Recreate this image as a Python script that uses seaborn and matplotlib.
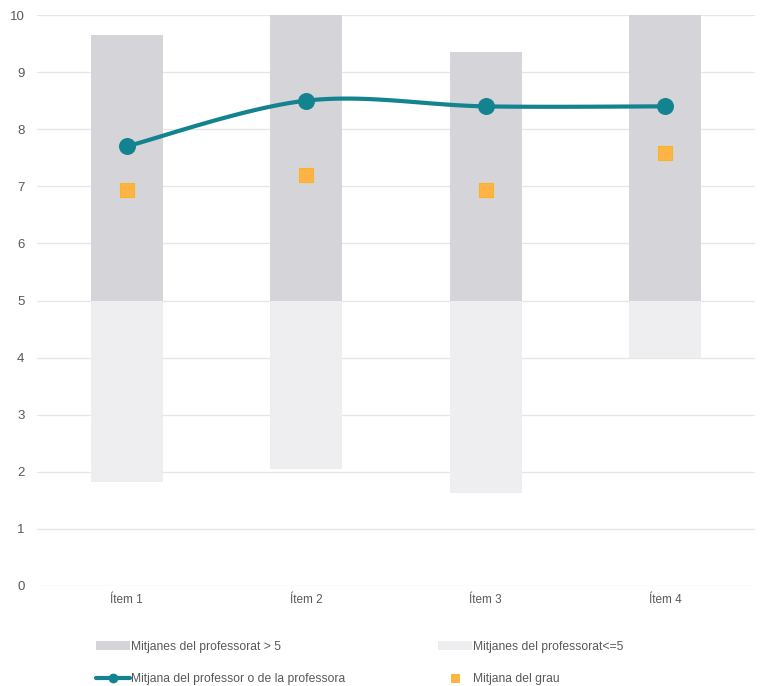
import numpy as np
import matplotlib
matplotlib.use('Agg')
import matplotlib.pyplot as plt
import seaborn as sns
from matplotlib.patches import Patch
from matplotlib.lines import Line2D

items = ['Ítem 1', 'Ítem 2', 'Ítem 3', 'Ítem 4']
prof_high = [9.65, 10.0, 9.35, 10.0]   # top of the range of teachers' means (> 5 part)
prof_low = [1.82, 2.05, 1.63, 4.0]     # bottom of the range (<= 5 part)
prof_mean = [7.7, 8.5, 8.4, 8.4]       # mean of this teacher
grau_mean = [6.94, 7.2, 6.94, 7.58]    # mean of the degree

dark_grey = '#d5d4d9'
light_grey = '#eeeef0'
teal = '#12838f'
orange = '#ffb347'
txt = '#595959'

sns.set_style('white')
plt.rcParams['font.family'] = ['Liberation Sans', 'DejaVu Sans']

fig = plt.figure(figsize=(7.63, 6.86), dpi=100)
ax = fig.add_axes([37 / 763, 100 / 686, 718 / 763, 571 / 686])

# floating bars: light part from the minimum up to 5, dark part from 5 up to the maximum
sns.barplot(x=items, y=[5 - v for v in prof_low], bottom=prof_low, color=light_grey,
            saturation=1, width=0.4, linewidth=0, errorbar=None, ax=ax, zorder=2)
sns.barplot(x=items, y=[v - 5 for v in prof_high], bottom=5, color=dark_grey,
            saturation=1, width=0.4, linewidth=0, errorbar=None, ax=ax, zorder=2)

# smoothed line (Bezier through the points, like a spreadsheet "smooth line")
pos = np.arange(len(items), dtype=float)
ym = np.array(prof_mean, dtype=float)
px = np.concatenate([[pos[0]], pos, [pos[-1]]])
py = np.concatenate([[ym[0]], ym, [ym[-1]]])
t = np.linspace(0, 1, 40)
cx, cy = [], []
for i in range(len(pos) - 1):
    p0 = np.array([px[i], py[i]])
    p1 = np.array([px[i + 1], py[i + 1]])
    p2 = np.array([px[i + 2], py[i + 2]])
    p3 = np.array([px[i + 3], py[i + 3]])
    c1 = p1 + (p2 - p0) / 6
    c2 = p2 - (p3 - p1) / 6
    seg = ((1 - t) ** 3)[:, None] * p1 + (3 * (1 - t) ** 2 * t)[:, None] * c1 \
        + (3 * (1 - t) * t ** 2)[:, None] * c2 + (t ** 3)[:, None] * p2
    cx.extend(seg[:, 0])
    cy.extend(seg[:, 1])
ax.plot(cx, cy, color=teal, lw=3, zorder=3, solid_capstyle='round')
sns.scatterplot(x=pos, y=prof_mean, color=teal, s=150, linewidth=0, zorder=4, ax=ax)

sns.scatterplot(x=pos, y=grau_mean, marker='s', color=orange, s=110,
                edgecolor='#f9b51c', linewidth=0.8, zorder=4, ax=ax)

ax.set_ylim(0, 10)
ax.set_xlim(-0.5, 3.5)
ax.set_yticks(range(0, 11))
ax.yaxis.grid(True, color='#e6e6e6', lw=0.9, zorder=0)
ax.xaxis.grid(False)
ax.set_axisbelow(True)
for s in ax.spines.values():
    s.set_visible(False)
ax.tick_params(axis='both', length=0, labelcolor=txt)
ax.tick_params(axis='y', pad=9, labelsize=9.5)
ax.tick_params(axis='x', pad=6, labelsize=8.5)
ax.set_xlabel('')
ax.set_ylabel('')

handles = [
    Patch(facecolor=dark_grey, edgecolor='none'),
    Line2D([0], [0], color=teal, lw=3, marker='o', markersize=6),
    Patch(facecolor=light_grey, edgecolor='none'),
    Line2D([0], [0], color=orange, lw=0, marker='s', markersize=6,
           markeredgecolor='#f9b51c', markeredgewidth=0.6),
]
labels = ['Mitjanes del professorat > 5', 'Mitjana del professor o de la professora',
          'Mitjanes del professorat<=5', 'Mitjana del grau']
fig.legend(handles, labels, ncol=2, loc='upper left', bbox_to_anchor=(96 / 763, 1 - 641 / 686),
           frameon=False, fontsize=8.75, labelcolor=txt, handlelength=2.8, handleheight=0.7,
           handletextpad=0.1, columnspacing=7.6, labelspacing=1.65, borderpad=0, borderaxespad=0)

fig.savefig('out.png', dpi=100)
